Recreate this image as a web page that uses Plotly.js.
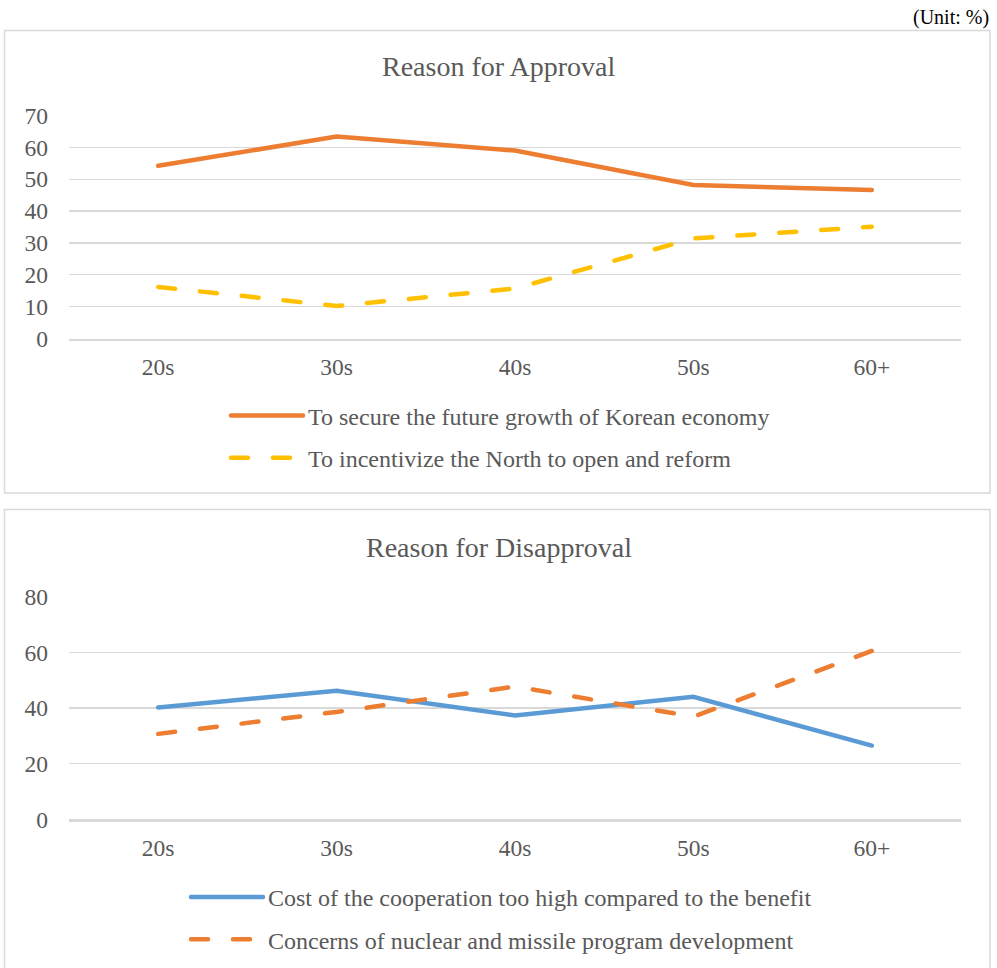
<!DOCTYPE html>
<html>
<head>
<meta charset="utf-8">
<script src="https://cdn.plot.ly/plotly-3.0.1.min.js"></script>
<style>
  html, body { margin: 0; padding: 0; background: #fff; width: 997px; height: 968px; overflow: hidden; }
  #chart { width: 997px; height: 968px; overflow: hidden; }
  .js-line { stroke-linecap: round !important; }
</style>
</head>
<body>
<div id="chart"></div>
<script>
// ---- data ----
const ageGroups = ['20s', '30s', '40s', '50s', '60+'];
const approvalEconomy = [54.2, 63.4, 59.0, 48.2, 46.6];
const approvalIncentive = [16.2, 10.2, 15.7, 31.4, 35.1];
const disapprovalCost = [40.2, 46.2, 37.3, 44.0, 26.5];
const disapprovalNuclear = [30.7, 38.6, 47.7, 36.9, 60.5];
const approvalTicks = [0, 10, 20, 30, 40, 50, 60, 70];
const disapprovalTicks = [0, 20, 40, 60, 80];
const seriesNames = [
  'To secure the future growth of Korean economy',
  'To incentivize the North to open and reform',
  'Cost of the cooperation too high compared to the benefit',
  'Concerns of nuclear and missile program development'
];
const panelTitles = ['Reason for Approval', 'Reason for Disapproval'];
const unitLabel = '(Unit: %)';

// ---- layout helpers ----
const W = 997, H = 968;
const px = x => x / W;
const py = y => 1 - y / H;
const FONT = '"Liberation Serif", "Times New Roman", serif';
const GREY = '#595959';
const GRID = '#d9d9d9';
const DASH = '17px,25px';

const traces = [
  { x: ageGroups, y: approvalEconomy, name: seriesNames[0], type: 'scatter', mode: 'lines',
    line: { color: '#ED7D31', width: 4.5 }, xaxis: 'x', yaxis: 'y', legend: 'legend', legendgroup: 'a' },
  { x: ageGroups, y: approvalIncentive, name: seriesNames[1], type: 'scatter', mode: 'lines',
    line: { color: '#FFC000', width: 4.5, dash: DASH }, xaxis: 'x', yaxis: 'y', legend: 'legend', legendgroup: 'b' },
  { x: ageGroups, y: disapprovalCost, name: seriesNames[2], type: 'scatter', mode: 'lines',
    line: { color: '#5B9BD5', width: 4.5 }, xaxis: 'x2', yaxis: 'y2', legend: 'legend2', legendgroup: 'c' },
  { x: ageGroups, y: disapprovalNuclear, name: seriesNames[3], type: 'scatter', mode: 'lines',
    line: { color: '#ED7D31', width: 4.5, dash: DASH }, xaxis: 'x2', yaxis: 'y2', legend: 'legend2', legendgroup: 'd' }
];

const xCommon = {
  type: 'category', range: [-0.5, 4.5], showgrid: false, zeroline: false,
  showline: true, linecolor: GRID, linewidth: 2.2, ticks: '', ticklabelstandoff: 6,
  tickfont: { family: FONT, size: 23.5, color: GREY }, fixedrange: true
};
const yCommon = {
  showgrid: true, gridcolor: GRID, gridwidth: 1.3, zeroline: false, showline: false,
  ticks: '', ticklabelstandoff: 20,
  tickfont: { family: FONT, size: 23.5, color: GREY }, fixedrange: true
};

const legendCommon = {
  font: { family: FONT, size: 24, color: GREY }, bgcolor: 'rgba(0,0,0,0)',
  traceorder: 'grouped', tracegroupgap: 8, itemwidth: 72, xanchor: 'left', yanchor: 'top',
  itemclick: false, itemdoubleclick: false
};

const layout = {
  width: W, height: H,
  margin: { l: 0, r: 0, t: 0, b: 0 },
  paper_bgcolor: '#fff', plot_bgcolor: '#fff',
  font: { family: FONT, color: GREY },
  xaxis: Object.assign({}, xCommon, { domain: [px(69), px(961)], anchor: 'y' }),
  yaxis: Object.assign({}, yCommon, { domain: [py(338.5), py(115.5)], range: [0, 70], tickvals: approvalTicks, anchor: 'x' }),
  xaxis2: Object.assign({}, xCommon, { domain: [px(69), px(961)], anchor: 'y2' }),
  yaxis2: Object.assign({}, yCommon, { domain: [py(819.3), py(596.7)], range: [0, 80], tickvals: disapprovalTicks, anchor: 'x2' }),
  legend: Object.assign({}, legendCommon, { x: px(226), y: py(393.5) }),
  legend2: Object.assign({}, legendCommon, { x: px(186), y: py(875) }),
  showlegend: true,
  annotations: [
    { text: panelTitles[0], xref: 'paper', yref: 'paper', x: px(499), y: py(66.5), showarrow: false,
      xanchor: 'center', yanchor: 'middle', font: { family: FONT, size: 28, color: GREY } },
    { text: panelTitles[1], xref: 'paper', yref: 'paper', x: px(499), y: py(547.5), showarrow: false,
      xanchor: 'center', yanchor: 'middle', font: { family: FONT, size: 28, color: GREY } },
    { text: unitLabel, xref: 'paper', yref: 'paper', x: px(991), y: py(18), showarrow: false,
      xanchor: 'right', yanchor: 'middle', font: { family: FONT, size: 20, color: '#000' } }
  ],
  shapes: [
    { type: 'rect', xref: 'paper', yref: 'paper', x0: px(4.5), x1: px(990), y0: py(493), y1: py(30.5),
      line: { color: GRID, width: 1.5 }, fillcolor: 'rgba(0,0,0,0)', layer: 'below' },
    { type: 'rect', xref: 'paper', yref: 'paper', x0: px(4.5), x1: px(990), y0: py(985), y1: py(509.5),
      line: { color: GRID, width: 1.5 }, fillcolor: 'rgba(0,0,0,0)', layer: 'below' }
  ]
};

Plotly.newPlot('chart', traces, layout, { staticPlot: true, displayModeBar: false });
</script>
</body>
</html>
